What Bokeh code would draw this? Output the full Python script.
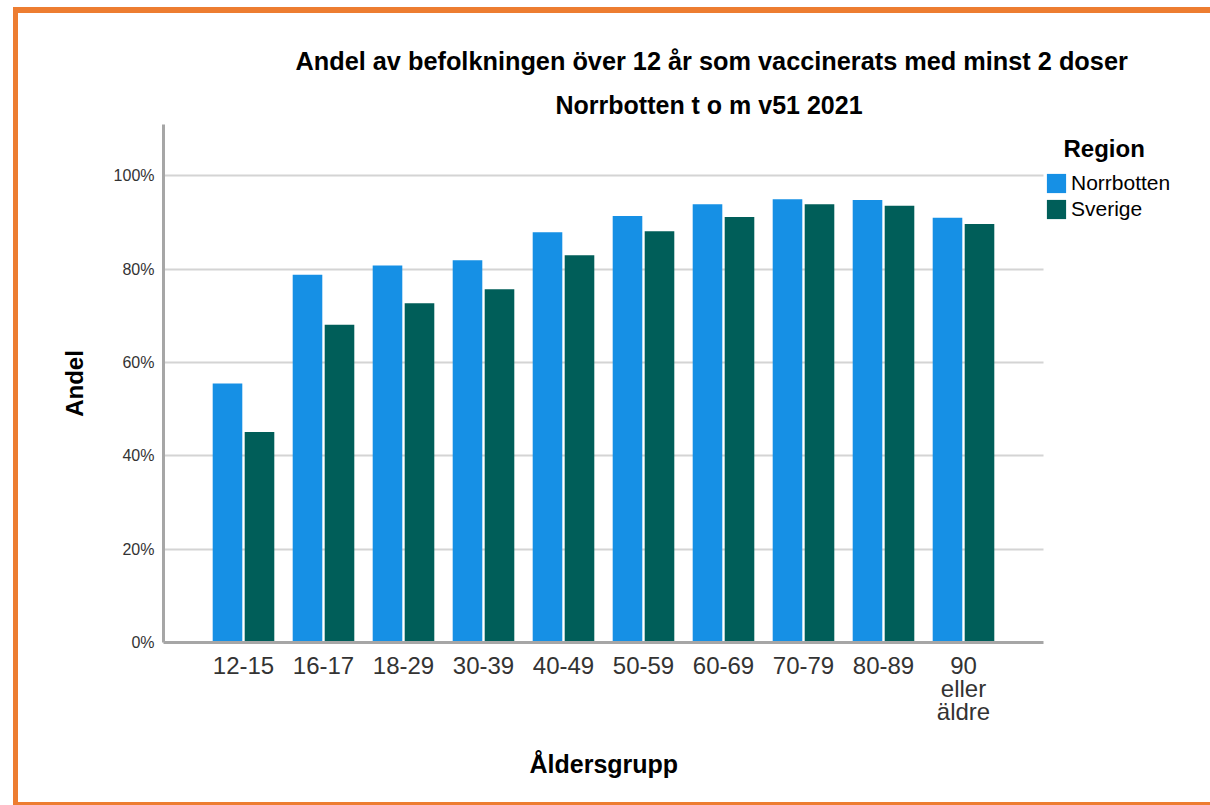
from bokeh.plotting import figure
from bokeh.models import (ColumnDataSource, FixedTicker, PrintfTickFormatter, Range1d,
                          Legend, LegendItem, Title, Label)
from bokeh.embed import file_html
from bokeh.resources import INLINE

# ---- data ----
age_groups = ["12-15", "16-17", "18-29", "30-39", "40-49", "50-59",
              "60-69", "70-79", "80-89", "90\neller\näldre"]
norrbotten = [55.5, 78.8, 80.8, 81.9, 87.9, 91.4, 93.9, 95.0, 94.8, 91.0]
sverige = [45.1, 68.1, 72.7, 75.7, 83.0, 88.1, 91.2, 93.9, 93.6, 89.7]
series_names = ["Norrbotten", "Sverige"]
legend_title = "Region"
y_ticks = [0, 20, 40, 60, 80, 100]

title_text = "Andel av befolkningen över 12 år som vaccinerats med minst 2 doser"
subtitle_text = "Norrbotten t o m v51 2021"
x_title = "Åldersgrupp"
y_title = "Andel"

FONT = "Liberation Sans"
BLUE = "#1690E5"
GREEN = "#005E59"
ORANGE = "#ED7D31"

W, H = 1210, 805
FRAME_L, FRAME_T, FRAME_B = 163, 124, 642
n = len(age_groups)
positions = list(range(1, n + 1))
axis_end = n + 1                      # axis line spans one slot beyond the last group
px_per_unit = 80.0
x_end = (W - FRAME_L) / px_per_unit   # frame runs to the right edge (legend lives there)

p = figure(width=W, height=H,
           x_range=Range1d(0, x_end), y_range=Range1d(0, 111),
           output_backend="svg", toolbar_location=None,
           min_border_left=FRAME_L, min_border_right=0,
           min_border_top=FRAME_T, min_border_bottom=H - FRAME_B)
p.title.text = ""
p.border_fill_alpha = 0
p.background_fill_color = "white"

# orange picture frame (left, top, bottom bands) drawn as CSS background of the host
band = f"linear-gradient({ORANGE},{ORANGE})"
p.styles = {
    "background-image": f"{band}, {band}, {band}",
    "background-size": "5px 100%, 100% 6px, 100% 3px",
    "background-position": "13px 7px, 13px 7px, 13px 802px",
    "background-repeat": "no-repeat",
    "background-color": "white",
}

src = ColumnDataSource(dict(
    xn=[x - 0.2 for x in positions], xs=[x + 0.2 for x in positions],
    norrbotten=norrbotten, sverige=sverige))
r1 = p.vbar(x="xn", top="norrbotten", width=0.37, source=src,
            fill_color=BLUE, line_color=None)
r2 = p.vbar(x="xs", top="sverige", width=0.37, source=src,
            fill_color=GREEN, line_color=None)

# axes
for ax in (p.xaxis[0], p.yaxis[0]):
    ax.axis_line_color = "#A6A6A6"
    ax.axis_line_width = 3
    ax.major_tick_line_color = None
    ax.minor_tick_line_color = None
    ax.major_tick_out = 0
    ax.major_tick_in = 0
    ax.major_label_text_font = FONT
    ax.major_label_text_color = "#333333"
    ax.axis_label_text_font = FONT
    ax.axis_label_text_font_style = "bold"
    ax.axis_label_text_color = "#000000"

p.xaxis.ticker = FixedTicker(ticks=positions)
p.xaxis.major_label_overrides = {pos: lab for pos, lab in zip(positions, age_groups)}
p.xaxis.bounds = (0, axis_end)
p.xaxis.major_label_text_font_size = "24px"
p.xaxis.major_label_text_line_height = 0.86
p.xaxis.major_label_standoff = 9

p.yaxis.ticker = FixedTicker(ticks=y_ticks)
p.yaxis.formatter = PrintfTickFormatter(format="%d%%")
p.yaxis.major_label_text_font_size = "16px"
p.yaxis.major_label_standoff = 9
p.yaxis.axis_label = y_title
p.yaxis.axis_label_text_font_size = "24px"
p.yaxis.axis_label_standoff = 23

p.xgrid.grid_line_color = None
p.ygrid.grid_line_color = "#D4D4D4"
p.ygrid.grid_line_width = 2
p.ygrid.cross_bounds = (0, axis_end)
p.outline_line_color = None

# titles
p.add_layout(Title(text=subtitle_text, align="left", offset=392,
                   text_font=FONT, text_font_style="bold", text_font_size="25px",
                   text_color="#000000", standoff=12), "above")
p.add_layout(Title(text=title_text, align="left", offset=132,
                   text_font=FONT, text_font_style="bold", text_font_size="25.3px",
                   text_color="#000000", standoff=16), "above")
# x-axis title, centred under the bar area
p.add_layout(Title(text=x_title, align="left", offset=366,
                   text_font=FONT, text_font_style="bold", text_font_size="25px",
                   text_color="#000000", standoff=40), "below")

# legend (inside the widened frame, right of the bars)
legend = Legend(items=[LegendItem(label=series_names[0], renderers=[r1]),
                       LegendItem(label=series_names[1], renderers=[r2])],
                location=(881, 421), padding=0, margin=0,
                border_line_color=None, background_fill_alpha=0,
                glyph_width=24, glyph_height=24, label_standoff=3, spacing=2,
                label_text_font=FONT, label_text_font_size="21px",
                label_text_color="#000000")
p.add_layout(legend, "center")
p.add_layout(Label(text=legend_title, x=900, y=FRAME_B - 148,
                   x_units="screen", y_units="screen",
                   text_font=FONT, text_font_style="bold", text_font_size="24px",
                   text_color="#000000", text_baseline="alphabetic"))

open("out.html", "w").write(file_html(p, INLINE))
